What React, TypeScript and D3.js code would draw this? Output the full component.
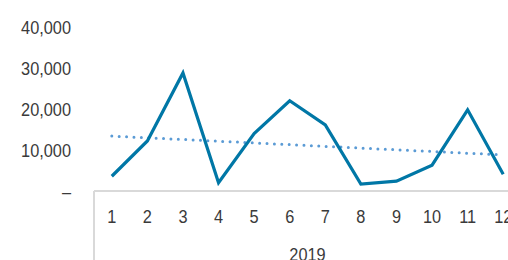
import React from 'react';
import * as d3 from 'd3';

// monthly values
const months = ['1', '2', '3', '4', '5', '6', '7', '8', '9', '10', '11', '12'];
const values = [3600, 12200, 28800, 2000, 14000, 22000, 16100, 1700, 2400, 6300, 19800, 4100];
// linear trend, first and last month
const trend = [13400, 8800];
const yTicks = [0, 10000, 20000, 30000, 40000];
const yearLabel = '2019';

const W = 508;
const H = 260;
const FONT = "'Liberation Sans', Arial, sans-serif";

// narrow text: the reference uses a condensed face
const Label = ({ x, y, anchor, children }: any) => (
  <text
    transform={`translate(${x},${y}) scale(0.86,1)`}
    textAnchor={anchor}
    fontSize={19}
    fill="#3a3a3a"
  >
    {children}
  </text>
);

export default function App() {
  const x = d3.scaleBand().domain(months).range([94, 521]).padding(0);
  const y = d3.scaleLinear().domain([0, 40000]).range([191, 27]);
  const cx = (m: string) => (x(m) as number) + x.bandwidth() / 2;

  const line = d3
    .line<number>()
    .x((_, i) => cx(months[i]))
    .y((d) => y(d));

  const trendLine = d3
    .line<number>()
    .x((_, i) => cx(i === 0 ? months[0] : months[months.length - 1]))
    .y((d) => y(d));

  const fmt = (v: number) => (v === 0 ? '–' : d3.format(',')(v));

  return (
    <svg
      width={W}
      height={H}
      style={{ position: 'absolute', left: 0, top: 0, background: '#fff' }}
      fontFamily={FONT}
    >
      {/* y tick labels */}
      {yTicks.map((t) => (
        <Label key={t} x={71} y={y(t) + 7} anchor="end">
          {fmt(t)}
        </Label>
      ))}

      {/* category axis */}
      <line x1={94} x2={W} y1={191} y2={191} stroke="#d9d9d9" strokeWidth={2} />
      <line x1={94} x2={94} y1={191} y2={H} stroke="#d9d9d9" strokeWidth={2} />
      {months.map((m) => (
        <Label key={m} x={cx(m)} y={223} anchor="middle">
          {m}
        </Label>
      ))}
      <Label x={(94 + 521) / 2} y={261} anchor="middle">
        {yearLabel}
      </Label>

      {/* trend */}
      <path
        d={trendLine(trend) as string}
        fill="none"
        stroke="#5b9bd5"
        strokeWidth={3}
        strokeLinecap="round"
        strokeDasharray="0 7.4"
      />

      {/* series */}
      <path
        d={line(values) as string}
        fill="none"
        stroke="#0077a6"
        strokeWidth={3.2}
        strokeLinejoin="miter"
      />
    </svg>
  );
}
